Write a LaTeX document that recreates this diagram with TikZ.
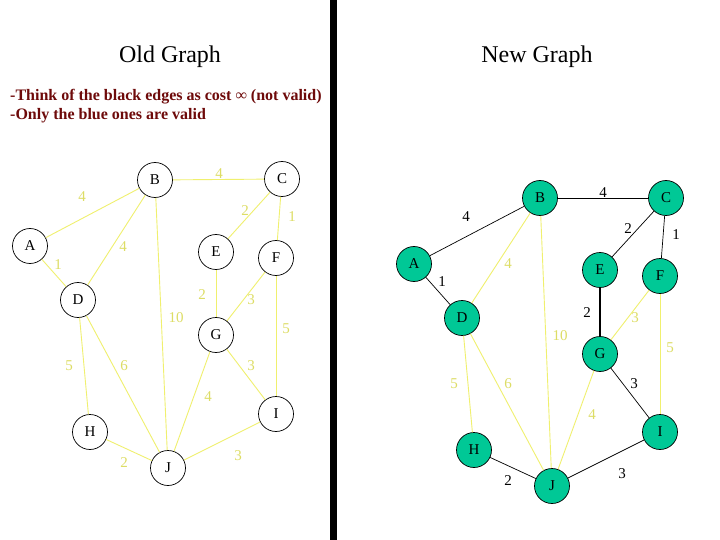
\documentclass[tikz,border=0pt]{standalone}
\usepackage{fontspec}
\setmainfont{Liberation Serif}
\usepackage{tikz}
\definecolor{EdgeYellow}{RGB}{240,240,110}
\definecolor{NodeGreen}{RGB}{0,200,150}
\definecolor{NoteRed}{RGB}{110,10,10}

\begin{document}
\begin{tikzpicture}[
		x=1pt, y=-1pt,
		baseNode/.style={
			circle, draw=black, line width=0.7pt,
			minimum size=35pt, inner sep=0pt,
			font=\fontsize{15}{17}\selectfont
		},
		oldNode/.style={baseNode, fill=white},
		newNode/.style={baseNode, fill=NodeGreen},
		yEdge/.style={EdgeYellow, line width=0.9pt},
		kEdge/.style={black, line width=0.7pt},
		yLabel/.style={text=EdgeYellow!92!black, font=\fontsize{15}{17}\selectfont, inner sep=0pt},
		kLabel/.style={text=black, font=\fontsize{15}{17}\selectfont, inner sep=0pt},
		titleText/.style={font=\fontsize{24}{28}\selectfont, inner sep=0pt},
		noteText/.style={text=NoteRed, font=\fontsize{16}{18}\selectfont\bfseries, inner sep=0pt, anchor=west}
		]
		
		\useasboundingbox (0,0) rectangle (720,540);
		\fill[white] (0,0) rectangle (720,540);
		\fill[black] (330,0) rectangle (337,540);
		
		% titles and note
		\node[titleText] (oldTitle) at (170,57) {Old Graph};
		\node[titleText] (newTitle) at (537,57) {New Graph};
		\node[noteText] (note1) at (10,97) {-Think of the black edges as cost ∞ (not valid)};
		\node[noteText] (note2) at (10,116) {-Only the blue ones are valid};
		
		% old graph
		\node[oldNode] (oA) at (30,246) {A};
		\node[oldNode] (oB) at (155,180) {B};
		\node[oldNode] (oC) at (282,179) {C};
		\node[oldNode] (oD) at (78,300) {D};
		\node[oldNode] (oE) at (216,252) {E};
		\node[oldNode] (oF) at (276,258) {F};
		\node[oldNode] (oG) at (216,335) {G};
		\node[oldNode] (oH) at (90,432) {H};
		\node[oldNode] (oI) at (276,414) {I};
		\node[oldNode] (oJ) at (168,468) {J};
		
		\draw [yEdge] (oA) -- (oB);
		\draw [yEdge] (oB) -- (oC);
		\draw [yEdge] (oC) -- (oE);
		\draw [yEdge] (oC) -- (oF);
		\draw [yEdge] (oB) -- (oD);
		\draw [yEdge] (oA) -- (oD);
		\draw [yEdge] (oE) -- (oG);
		\draw [yEdge] (oF) -- (oG);
		\draw [yEdge] (oB) -- (oJ);
		\draw [yEdge] (oF) -- (oI);
		\draw [yEdge] (oD) -- (oH);
		\draw [yEdge] (oD) -- (oJ);
		\draw [yEdge] (oG) -- (oI);
		\draw [yEdge] (oG) -- (oJ);
		\draw [yEdge] (oH) -- (oJ);
		\draw [yEdge] (oJ) -- (oI);
		
		\node[yLabel] (oAB) at (82,197) {4};
		\node[yLabel] (oBC) at (219,174) {4};
		\node[yLabel] (oCE) at (245,211) {2};
		\node[yLabel] (oCF) at (292,217) {1};
		\node[yLabel] (oBD) at (123,247) {4};
		\node[yLabel] (oAD) at (58,265) {1};
		\node[yLabel] (oEG) at (202,295) {2};
		\node[yLabel] (oFG) at (251,300) {3};
		\node[yLabel] (oBJ) at (176,318) {10};
		\node[yLabel] (oFI) at (286,329) {5};
		\node[yLabel] (oDH) at (69,366) {5};
		\node[yLabel] (oDJ) at (124,366) {6};
		\node[yLabel] (oGI) at (251,366) {3};
		\node[yLabel] (oGJ) at (208,397) {4};
		\node[yLabel] (oHJ) at (124,463) {2};
		\node[yLabel] (oJI) at (238,456) {3};
		
		% new graph
		\node[newNode] (nA) at (414,264) {A};
		\node[newNode] (nB) at (540,198) {B};
		\node[newNode] (nC) at (666,198) {C};
		\node[newNode] (nD) at (462,318) {D};
		\node[newNode] (nE) at (600,270) {E};
		\node[newNode] (nF) at (660,276) {F};
		\node[newNode] (nG) at (600,354) {G};
		\node[newNode] (nH) at (474,450) {H};
		\node[newNode] (nI) at (660,432) {I};
		\node[newNode] (nJ) at (552,486) {J};
		
		\draw [kEdge] (nA) -- (nB);
		\draw [kEdge] (nB) -- (nC);
		\draw [kEdge] (nC) -- (nE);
		\draw [kEdge] (nC) -- (nF);
		\draw [kEdge] (nA) -- (nD);
		\draw [kEdge, line width=1.3pt] (nE) -- (nG);
		\draw [kEdge] (nG) -- (nI);
		\draw [kEdge] (nH) -- (nJ);
		\draw [kEdge] (nJ) -- (nI);
		\draw [yEdge] (nB) -- (nD);
		\draw [yEdge] (nB) -- (nJ);
		\draw [yEdge] (nF) -- (nG);
		\draw [yEdge] (nF) -- (nI);
		\draw [yEdge] (nD) -- (nH);
		\draw [yEdge] (nD) -- (nJ);
		\draw [yEdge] (nG) -- (nJ);
		
		\node[kLabel] (nAB) at (466,217) {4};
		\node[kLabel] (nBC) at (603,193) {4};
		\node[kLabel] (nCE) at (628,229) {2};
		\node[kLabel] (nCF) at (676,235) {1};
		\node[kLabel] (nAD) at (442,282) {1};
		\node[yLabel] (nBD) at (508,264) {4};
		\node[kLabel] (nEG) at (587,313) {2};
		\node[yLabel] (nFG) at (635,318) {3};
		\node[yLabel] (nBJ) at (560,336) {10};
		\node[yLabel] (nFI) at (670,348) {5};
		\node[yLabel] (nDH) at (454,384) {5};
		\node[yLabel] (nDJ) at (508,384) {6};
		\node[kLabel] (nGI) at (634,384) {3};
		\node[yLabel] (nGJ) at (592,415) {4};
		\node[kLabel] (nHJ) at (508,481) {2};
		\node[kLabel] (nJI) at (622,474) {3};
	\end{tikzpicture}
\end{document}
